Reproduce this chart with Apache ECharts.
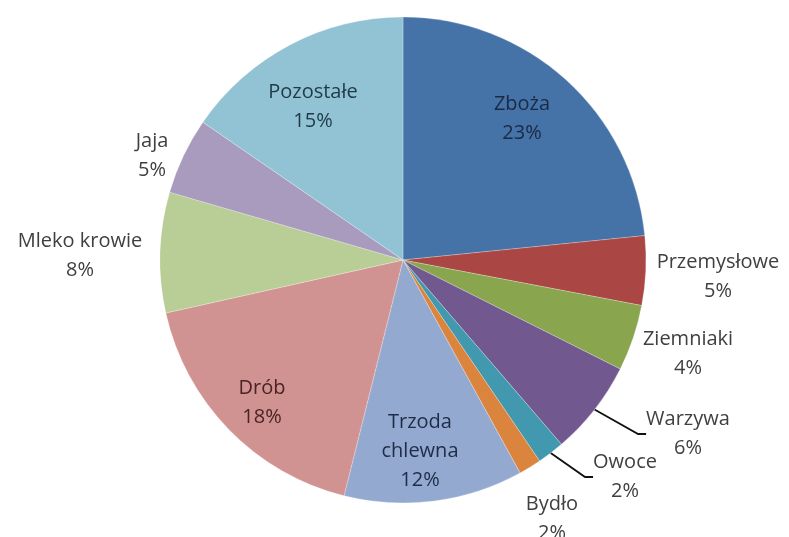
<!DOCTYPE html>
<html>
<head>
<meta charset="utf-8">
<script src="https://cdn.jsdelivr.net/npm/echarts@6/dist/echarts.min.js"></script>
<style>
  html, body { margin: 0; padding: 0; background: #fff; }
  #main { width: 789px; height: 537px; }
</style>
</head>
<body>
<div id="main"></div>
<script>
// udział w produkcji rolniczej (%)
const categories = ['Zboża', 'Przemysłowe', 'Ziemniaki', 'Warzywa', 'Owoce', 'Bydło',
    'Trzoda\nchlewna', 'Drób', 'Mleko krowie', 'Jaja', 'Pozostałe'];
const values = [23.4, 4.6, 4.4, 6.3, 1.8, 1.5, 11.9, 17.6, 8.0, 5.1, 15.4];

// kolory wycinków (paleta Excel 2007)
const colors = ['#4572a7', '#aa4643', '#89a54e', '#71588f', '#4198af', '#db843d',
    '#93a9cf', '#d19392', '#b9cd96', '#a99bbd', '#92c3d4'];
const textColors = ['#1a2a45', '#404040', '#404040', '#404040', '#404040', '#404040',
    '#1f2c48', '#4a2323', '#404040', '#404040', '#1f3a46'];
// gdzie stoi etykieta (środek bloku tekstu)
const labelPos = [[522, 119], [718, 277], [688, 354], [688, 434], [625, 477], [552, 519],
    [420, 451], [262, 403], [80, 256], [152, 156], [313, 107]];
const withLine = [3, 4];

let myChart = echarts.init(document.getElementById('main'));

let option = {
    backgroundColor: '#fff',
    animation: false,
    series: [
        {
            type: 'pie',
            center: [403, 260],
            radius: 243,
            startAngle: 90,
            clockwise: true,
            percentPrecision: 1,
            itemStyle: {
                borderColor: 'rgba(255,255,255,0.5)',
                borderWidth: 0.5
            },
            label: {
                show: true,
                position: 'outside',
                fontFamily: 'Open Sans',
                fontSize: 20,
                lineHeight: 29,
                align: 'center',
                overflow: 'none',
                formatter: p => p.name + '\n' + Math.round(p.percent) + '%'
            },
            labelLine: {
                show: true,
                length: 20,
                length2: 8,
                lineStyle: { color: '#111', width: 1.8 }
            },
            labelLayout: function (params) {
                const pos = labelPos[params.dataIndex];
                return { x: pos[0], y: pos[1], align: 'center', verticalAlign: 'middle' };
            },
            emphasis: { disabled: true },
            data: categories.map((name, i) => ({
                name: name,
                value: values[i],
                itemStyle: { color: colors[i] },
                label: { color: textColors[i] },
                labelLine: { show: withLine.indexOf(i) >= 0 }
            }))
        }
    ]
};

option && myChart.setOption(option);
</script>
</body>
</html>
